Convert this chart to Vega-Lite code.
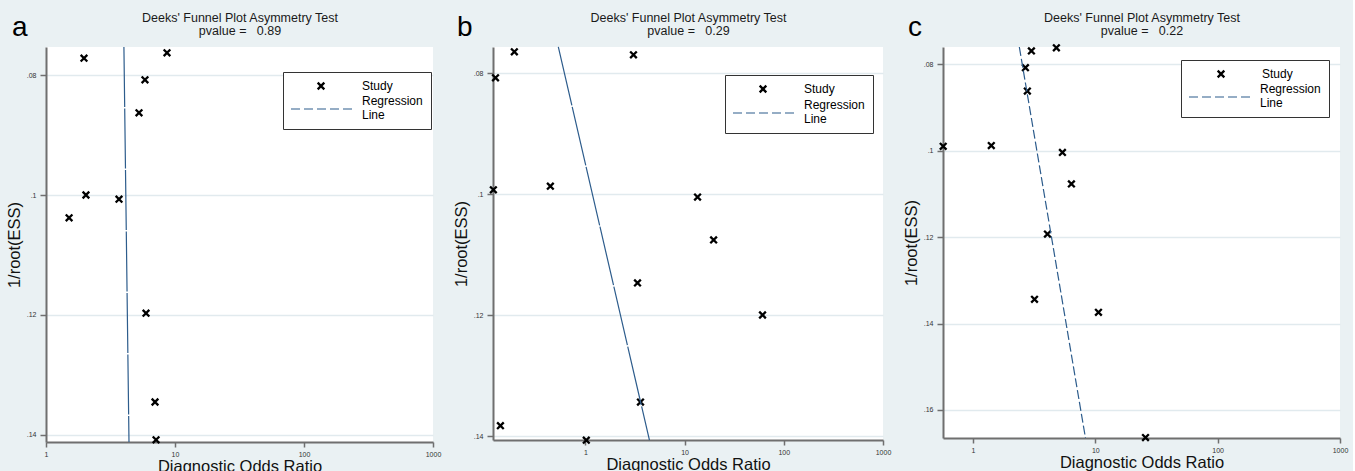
{
  "$schema": "https://vega.github.io/schema/vega-lite/v6.json",
  "background": "#eaf1f3",
  "padding": {"left": 6, "top": 11, "right": 5, "bottom": 0},
  "spacing": 60,
  "bounds": "flush",
  "resolve": {"scale": {"shape": "independent", "opacity": "independent"}},
  "config": {
    "font": "Liberation Sans",
    "view": {"fill": "white", "stroke": null},
    "title": {"font": "Liberation Sans", "fontWeight": "normal", "color": "#000000"},
    "axis": {
      "labelFont": "Liberation Sans",
      "titleFont": "Liberation Sans",
      "titleFontWeight": "normal",
      "labelColor": "#333333",
      "titleColor": "#111111",
      "domainColor": "#6f6f6f",
      "domainWidth": 2,
      "tickColor": "#6f6f6f",
      "tickWidth": 1.5,
      "labelFontSize": 7,
      "gridColor": "#e1eaee",
      "gridWidth": 1.5
    },
    "legend": {
      "labelFont": "Liberation Sans",
      "titleFont": "Liberation Sans",
      "labelFontSize": 12,
      "labelColor": "#000000",
      "labelLimit": 0
    }
  },
  "datasets": {
    "a_studies": [
      {"dor": 1.97, "inv_root_ess": 0.0772},
      {"dor": 8.67, "inv_root_ess": 0.0763},
      {"dor": 5.85, "inv_root_ess": 0.0808},
      {"dor": 5.26, "inv_root_ess": 0.0863},
      {"dor": 2.04, "inv_root_ess": 0.1000},
      {"dor": 3.68, "inv_root_ess": 0.1007},
      {"dor": 1.51, "inv_root_ess": 0.1038},
      {"dor": 5.96, "inv_root_ess": 0.1197},
      {"dor": 7.00, "inv_root_ess": 0.1345},
      {"dor": 7.13, "inv_root_ess": 0.1408}
    ],
    "a_line": [
      {"dor": 4.018, "inv_root_ess": 0.07533},
      {"dor": 4.399, "inv_root_ess": 0.14117}
    ],
    "b_studies": [
      {"dor": 0.124, "inv_root_ess": 0.0808},
      {"dor": 0.192, "inv_root_ess": 0.0765},
      {"dor": 3.05, "inv_root_ess": 0.0770},
      {"dor": 0.118, "inv_root_ess": 0.0993},
      {"dor": 0.443, "inv_root_ess": 0.0987},
      {"dor": 13.5, "inv_root_ess": 0.1005},
      {"dor": 19.6, "inv_root_ess": 0.1076},
      {"dor": 3.35, "inv_root_ess": 0.1147},
      {"dor": 61.0, "inv_root_ess": 0.1200},
      {"dor": 3.59, "inv_root_ess": 0.1344},
      {"dor": 0.139, "inv_root_ess": 0.1383},
      {"dor": 1.02, "inv_root_ess": 0.1407}
    ],
    "b_line": [
      {"dor": 0.533, "inv_root_ess": 0.0757},
      {"dor": 4.42, "inv_root_ess": 0.1407}
    ],
    "c_studies": [
      {"dor": 0.57, "inv_root_ess": 0.0990},
      {"dor": 1.41, "inv_root_ess": 0.0988},
      {"dor": 3.0, "inv_root_ess": 0.0769},
      {"dor": 4.8, "inv_root_ess": 0.0762},
      {"dor": 2.68, "inv_root_ess": 0.0808},
      {"dor": 2.78, "inv_root_ess": 0.0862},
      {"dor": 5.38, "inv_root_ess": 0.1004},
      {"dor": 6.37, "inv_root_ess": 0.1077},
      {"dor": 4.06, "inv_root_ess": 0.1193},
      {"dor": 3.18, "inv_root_ess": 0.1344},
      {"dor": 10.6, "inv_root_ess": 0.1374},
      {"dor": 25.7, "inv_root_ess": 0.1664}
    ],
    "c_line": [
      {"dor": 2.39, "inv_root_ess": 0.0760},
      {"dor": 8.3, "inv_root_ess": 0.1665}
    ]
  },
  "hconcat": [
    {
      "width": 387,
      "height": 395,
      "title": {"text": "a", "anchor": "start", "frame": "group", "fontSize": 28, "dx": -34, "offset": -30},
      "layer": [
        {
          "data": {"name": "a_studies"},
          "mark": {"type": "point", "filled": false, "size": 44, "strokeWidth": 2.3, "opacity": 1, "color": "#000000"},
          "encoding": {
            "x": {
              "field": "dor", "type": "quantitative",
              "scale": {"type": "log", "domain": [1, 1000], "nice": false},
              "axis": {"values": [1, 10, 100, 1000], "format": "d", "labelFlush": false, "labelOverlap": false, "tickSize": 5, "labelPadding": 3, "grid": false, "title": "Diagnostic Odds Ratio", "titleFontSize": 16.5, "titlePadding": 1}
            },
            "y": {
              "field": "inv_root_ess", "type": "quantitative",
              "scale": {"domain": [0.075333, 0.141167], "reverse": true, "nice": false, "zero": false},
              "axis": {"values": [0.08, 0.1, 0.12, 0.14], "format": ".2~f", "labelExpr": "substring(datum.label, 1)", "tickSize": 6, "labelPadding": 4, "grid": true, "title": "1/root(ESS)", "titleFontSize": 16.5, "titlePadding": 4}
            },
            "shape": {
              "datum": "Study", "type": "nominal",
              "scale": {"domain": ["Study"], "range": ["M-1,-1L1,1M1,-1L-1,1"]},
              "legend": {"orient": "none", "legendX": 269, "legendY": 33, "title": null, "padding": 0, "symbolSize": 44, "symbolStrokeWidth": 2.3, "symbolStrokeColor": "#000000", "symbolFillColor": "transparent", "symbolOffset": 0, "labelOffset": 35, "strokeColor": "transparent", "fillColor": "transparent", "zindex": 2}
            }
          }
        },
        {
          "data": {"name": "a_line"},
          "mark": {"type": "line", "strokeWidth": 1.2, "strokeDash": [60, 1.5], "color": "#2d5c8c"},
          "encoding": {
            "x": {
              "field": "dor", "type": "quantitative",
              "axis": {"orient": "top", "title": ["Deeks' Funnel Plot Asymmetry Test", "pvalue =\u00a0\u00a0\u00a00.89"], "labels": false, "ticks": false, "domain": false, "grid": false, "titleFontSize": 12.5, "titleLineHeight": 12.5, "titlePadding": 10, "titleColor": "#1a1a1a"}
            },
            "y": {
              "field": "inv_root_ess", "type": "quantitative",
              "axis": {"values": [0.08, 0.1, 0.12, 0.14], "format": ".2~f", "labelExpr": "substring(datum.label, 1)", "tickSize": 6, "labelPadding": 4, "grid": true, "title": "1/root(ESS)", "titleFontSize": 16.5, "titlePadding": 4}
            },
            "opacity": {
              "datum": "Regression Line", "type": "nominal",
              "scale": {"type": "ordinal", "domain": ["Regression Line"], "range": [1]},
              "legend": {"orient": "none", "legendX": 237, "legendY": 25, "title": " ", "titleFontSize": 12, "titlePadding": 11, "padding": 8, "symbolType": "stroke", "symbolSize": 3844, "symbolStrokeWidth": 1.1, "symbolStrokeColor": "#2d5c8c", "symbolDash": [9, 4], "symbolOffset": -1, "labelOffset": 8, "clipHeight": 12, "labelBaseline": "line-bottom", "labelExpr": "['Regression', 'Line']", "strokeColor": "#333333", "fillColor": "#ffffff", "zindex": 1}
            }
          }
        }
      ],
      "resolve": {"axis": {"x": "independent"}}
    },
    {
      "width": 390,
      "height": 393,
      "title": {"text": "b", "anchor": "start", "frame": "group", "fontSize": 28, "dx": -36, "offset": -30},
      "layer": [
        {
          "data": {"name": "b_studies"},
          "mark": {"type": "point", "filled": false, "size": 44, "strokeWidth": 2.3, "opacity": 1, "color": "#000000"},
          "encoding": {
            "x": {
              "field": "dor", "type": "quantitative",
              "scale": {"type": "log", "domain": [0.117, 1000], "nice": false},
              "axis": {"values": [1, 10, 100, 1000], "format": "d", "labelFlush": false, "labelOverlap": false, "tickSize": 5, "labelPadding": 3, "grid": false, "title": "Diagnostic Odds Ratio", "titleFontSize": 16.5, "titlePadding": 1}
            },
            "y": {
              "field": "inv_root_ess", "type": "quantitative",
              "scale": {"domain": [0.075702, 0.140661], "reverse": true, "nice": false, "zero": false},
              "axis": {"values": [0.08, 0.1, 0.12, 0.14], "format": ".2~f", "labelExpr": "substring(datum.label, 1)", "tickSize": 6, "labelPadding": 4, "grid": true, "title": "1/root(ESS)", "titleFontSize": 16.5, "titlePadding": 4}
            },
            "shape": {
              "datum": "Study", "type": "nominal",
              "scale": {"domain": ["Study"], "range": ["M-1,-1L1,1M1,-1L-1,1"]},
              "legend": {"orient": "none", "legendX": 264, "legendY": 36, "title": null, "padding": 0, "symbolSize": 44, "symbolStrokeWidth": 2.3, "symbolStrokeColor": "#000000", "symbolFillColor": "transparent", "symbolOffset": 0, "labelOffset": 35, "strokeColor": "transparent", "fillColor": "transparent", "zindex": 2}
            }
          }
        },
        {
          "data": {"name": "b_line"},
          "mark": {"type": "line", "strokeWidth": 1.2, "strokeDash": [60, 1.5], "color": "#2d5c8c"},
          "encoding": {
            "x": {
              "field": "dor", "type": "quantitative",
              "axis": {"orient": "top", "title": ["Deeks' Funnel Plot Asymmetry Test", "pvalue =\u00a0\u00a0\u00a00.29"], "labels": false, "ticks": false, "domain": false, "grid": false, "titleFontSize": 12.5, "titleLineHeight": 12.5, "titlePadding": 10, "titleColor": "#1a1a1a"}
            },
            "y": {
              "field": "inv_root_ess", "type": "quantitative",
              "axis": {"values": [0.08, 0.1, 0.12, 0.14], "format": ".2~f", "labelExpr": "substring(datum.label, 1)", "tickSize": 6, "labelPadding": 4, "grid": true, "title": "1/root(ESS)", "titleFontSize": 16.5, "titlePadding": 4}
            },
            "opacity": {
              "datum": "Regression Line", "type": "nominal",
              "scale": {"type": "ordinal", "domain": ["Regression Line"], "range": [1]},
              "legend": {"orient": "none", "legendX": 232, "legendY": 28, "title": " ", "titleFontSize": 12, "titlePadding": 12, "padding": 8, "symbolType": "stroke", "symbolSize": 3844, "symbolStrokeWidth": 1.1, "symbolStrokeColor": "#2d5c8c", "symbolDash": [9, 4], "symbolOffset": -1, "labelOffset": 8, "clipHeight": 12, "labelBaseline": "line-bottom", "labelExpr": "['Regression', 'Line']", "strokeColor": "#333333", "fillColor": "#ffffff", "zindex": 1}
            }
          }
        }
      ],
      "resolve": {"axis": {"x": "independent"}}
    },
    {
      "width": 397,
      "height": 391,
      "title": {"text": "c", "anchor": "start", "frame": "group", "fontSize": 28, "dx": -35, "offset": -30},
      "layer": [
        {
          "data": {"name": "c_studies"},
          "mark": {"type": "point", "filled": false, "size": 44, "strokeWidth": 2.3, "opacity": 1, "color": "#000000"},
          "encoding": {
            "x": {
              "field": "dor", "type": "quantitative",
              "scale": {"type": "log", "domain": [0.568, 1000], "nice": false},
              "axis": {"values": [1, 10, 100, 1000], "format": "d", "labelFlush": false, "labelOverlap": false, "tickSize": 5, "labelPadding": 3, "grid": false, "title": "Diagnostic Odds Ratio", "titleFontSize": 16.5, "titlePadding": 1}
            },
            "y": {
              "field": "inv_root_ess", "type": "quantitative",
              "scale": {"domain": [0.0760, 0.1665], "reverse": true, "nice": false, "zero": false},
              "axis": {"values": [0.08, 0.1, 0.12, 0.14, 0.16], "format": ".2~f", "labelExpr": "substring(datum.label, 1)", "tickSize": 6, "labelPadding": 4, "grid": true, "title": "1/root(ESS)", "titleFontSize": 16.5, "titlePadding": 4}
            },
            "shape": {
              "datum": "Study", "type": "nominal",
              "scale": {"domain": ["Study"], "range": ["M-1,-1L1,1M1,-1L-1,1"]},
              "legend": {"orient": "none", "legendX": 272, "legendY": 21, "title": null, "padding": 0, "symbolSize": 44, "symbolStrokeWidth": 2.3, "symbolStrokeColor": "#000000", "symbolFillColor": "transparent", "symbolOffset": 0, "labelOffset": 35, "strokeColor": "transparent", "fillColor": "transparent", "zindex": 2}
            }
          }
        },
        {
          "data": {"name": "c_line"},
          "mark": {"type": "line", "strokeWidth": 1.2, "strokeDash": [9, 3], "color": "#2d5c8c"},
          "encoding": {
            "x": {
              "field": "dor", "type": "quantitative",
              "axis": {"orient": "top", "title": ["Deeks' Funnel Plot Asymmetry Test", "pvalue =\u00a0\u00a0\u00a00.22"], "labels": false, "ticks": false, "domain": false, "grid": false, "titleFontSize": 12.5, "titleLineHeight": 12.5, "titlePadding": 10, "titleColor": "#1a1a1a"}
            },
            "y": {
              "field": "inv_root_ess", "type": "quantitative",
              "axis": {"values": [0.08, 0.1, 0.12, 0.14, 0.16], "format": ".2~f", "labelExpr": "substring(datum.label, 1)", "tickSize": 6, "labelPadding": 4, "grid": true, "title": "1/root(ESS)", "titleFontSize": 16.5, "titlePadding": 4}
            },
            "opacity": {
              "datum": "Regression Line", "type": "nominal",
              "scale": {"type": "ordinal", "domain": ["Regression Line"], "range": [1]},
              "legend": {"orient": "none", "legendX": 238, "legendY": 13, "title": " ", "titleFontSize": 12, "titlePadding": 11, "padding": 8, "symbolType": "stroke", "symbolSize": 3844, "symbolStrokeWidth": 1.1, "symbolStrokeColor": "#2d5c8c", "symbolDash": [9, 4], "symbolOffset": -1, "labelOffset": 8, "clipHeight": 12, "labelBaseline": "line-bottom", "labelExpr": "['Regression', 'Line']", "strokeColor": "#333333", "fillColor": "#ffffff", "zindex": 1}
            }
          }
        }
      ],
      "resolve": {"axis": {"x": "independent"}}
    }
  ]
}
